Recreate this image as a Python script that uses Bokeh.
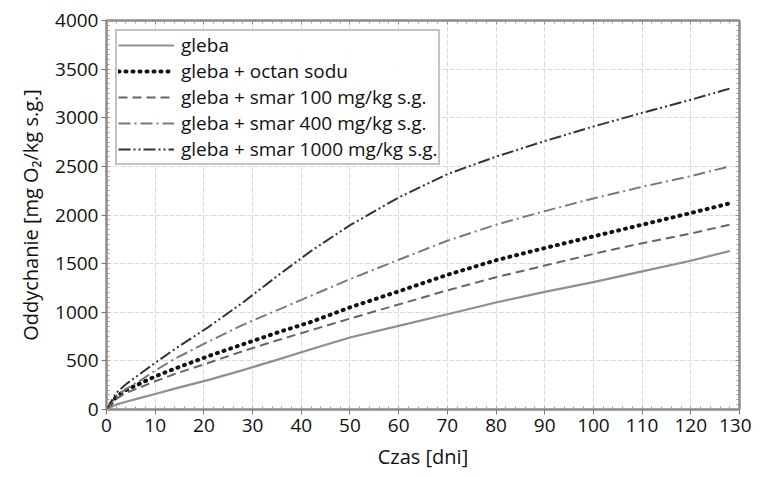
from bokeh.plotting import figure
from bokeh.models import LinearAxis, Legend, LegendItem, FixedTicker, Range1d, CustomJSTickFormatter
from bokeh.embed import file_html
from bokeh.resources import INLINE

days = [0, 2, 4, 7, 10, 14, 21, 28, 35, 42, 50, 60, 70, 80, 90, 100, 110, 120, 128]
gleba = [0, 50, 80, 120, 160, 215, 305, 405, 510, 620, 740, 860, 980, 1100, 1210, 1310, 1420, 1530, 1630]
octan = [0, 130, 200, 270, 340, 420, 550, 670, 790, 900, 1050, 1215, 1385, 1535, 1660, 1780, 1900, 2020, 2120]
smar100 = [0, 110, 170, 230, 290, 365, 480, 600, 710, 815, 935, 1080, 1225, 1360, 1480, 1600, 1710, 1810, 1900]
smar400 = [0, 140, 210, 300, 400, 520, 700, 870, 1020, 1170, 1340, 1540, 1735, 1900, 2040, 2170, 2290, 2400, 2500]
smar1000 = [0, 170, 260, 370, 480, 620, 850, 1100, 1370, 1630, 1895, 2180, 2420, 2600, 2760, 2910, 3050, 3185, 3300]

labels = ["gleba", "gleba + octan sodu", "gleba + smar 100 mg/kg s.g.",
          "gleba + smar 400 mg/kg s.g.", "gleba + smar 1000 mg/kg s.g."]
x_ticks = list(range(0, 131, 10))
y_ticks = list(range(0, 4001, 500))
x_minor = list(range(0, 131, 2))
y_minor = list(range(0, 4001, 50))

FONT = "Open Sans"

p = figure(width=751, height=472, output_backend="svg", toolbar_location=None,
           x_range=Range1d(0, 130), y_range=Range1d(0, 4000),
           min_border_left=106, min_border_right=12, min_border_top=20, min_border_bottom=61)
p.background_fill_color = "white"
p.outline_line_color = "#8a8a8a"
p.outline_line_width = 2

styles = [
    dict(color="#8f8f8f", width=2.2, dash="solid", cap="butt"),
    dict(color="#111111", width=4, dash="1 6", cap="round"),
    dict(color="#666666", width=2, dash="9 5", cap="butt"),
    dict(color="#7a7a7a", width=2, dash="12 4 2 4", cap="butt"),
    dict(color="#333333", width=2, dash="12 3 2 3 2 3", cap="butt"),
]
series = [gleba, octan, smar100, smar400, smar1000]
items = []
for lab, ys, st in zip(labels, series, styles):
    r = p.line(days, ys, line_color=st["color"], line_width=st["width"], line_dash=st["dash"],
               line_cap=st["cap"], line_join="round")
    items.append(LegendItem(label=lab, renderers=[r]))

legend = Legend(items=items, location="top_left")
legend.label_text_font = FONT
legend.label_text_font_size = "19px"
legend.label_text_color = "#111111"
legend.label_height = 20
legend.glyph_height = 20
legend.glyph_width = 56
legend.spacing = 0
legend.padding = 1
legend.margin = 9
legend.border_line_color = "#8a8a8a"
legend.border_line_width = 2
legend.label_standoff = 7
p.add_layout(legend)

p.xaxis.ticker = FixedTicker(ticks=x_ticks, minor_ticks=x_minor)
p.yaxis.ticker = FixedTicker(ticks=y_ticks, minor_ticks=y_minor)

for ax in [p.xaxis[0], p.yaxis[0]]:
    ax.axis_line_color = "#8a8a8a"
    ax.axis_line_width = 2
    ax.major_tick_line_color = "#777777"
    ax.minor_tick_line_color = "#999999"
    ax.major_tick_out = 5
    ax.major_tick_in = 2
    ax.minor_tick_out = 0
    ax.minor_tick_in = 3
    ax.major_label_text_font = FONT
    ax.major_label_text_font_size = "19px"
    ax.major_label_text_color = "#111111"
    ax.axis_label_text_font = FONT
    ax.axis_label_text_font_size = "20px"
    ax.axis_label_text_font_style = "normal"
    ax.axis_label_text_color = "#111111"

p.xaxis.axis_label = "Czas [dni]"
p.yaxis.axis_label = "Oddychanie [mg O\u2082/kg s.g.]"
p.xaxis.major_label_standoff = 4
p.yaxis.major_label_standoff = 3
p.xaxis.axis_label_standoff = 8
p.yaxis.axis_label_standoff = 8

blank = CustomJSTickFormatter(code="return ''")
right = LinearAxis(ticker=FixedTicker(ticks=y_ticks, minor_ticks=y_minor), formatter=blank)
top = LinearAxis(ticker=FixedTicker(ticks=x_ticks, minor_ticks=x_minor), formatter=blank)
for ax in [right, top]:
    ax.axis_line_color = "#8a8a8a"
    ax.axis_line_width = 2
    ax.major_tick_line_color = "#777777"
    ax.minor_tick_line_color = "#999999"
    ax.major_tick_out = 0
    ax.major_tick_in = 4
    ax.minor_tick_out = 0
    ax.minor_tick_in = 3
    ax.major_label_standoff = 0
p.add_layout(right, "right")
p.add_layout(top, "above")

p.xgrid.ticker = FixedTicker(ticks=x_ticks)
p.ygrid.ticker = FixedTicker(ticks=y_ticks)
p.grid.grid_line_color = "#d5dbe2"
p.grid.grid_line_dash = "5 2"
p.grid.grid_line_width = 1

open("out.html", "w").write(file_html(p, INLINE))
